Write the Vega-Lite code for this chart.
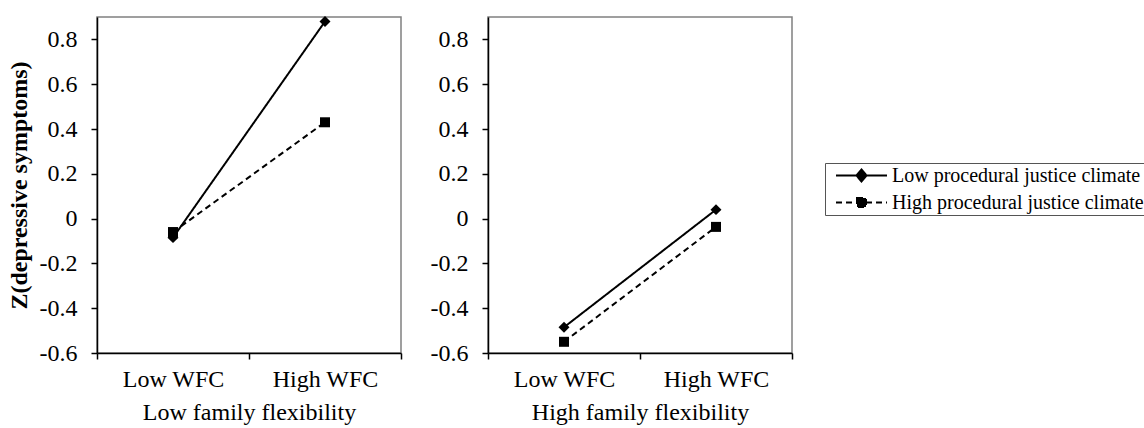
{
  "$schema": "https://vega.github.io/schema/vega-lite/v6.json",
  "padding": {"left": 6, "top": 15, "right": 0, "bottom": 0},
  "background": "white",
  "config": {
    "font": "Liberation Serif",
    "view": {"stroke": "#808080", "strokeWidth": 1.5},
    "axis": {
      "domainColor": "black", "tickColor": "black", "labelColor": "black", "titleColor": "black",
      "labelFont": "Liberation Serif", "titleFont": "Liberation Serif",
      "labelFontSize": 24, "titleFontSize": 24, "titleFontWeight": "normal",
      "grid": false, "tickSize": 6, "domainWidth": 1.5, "tickWidth": 1.5
    },
    "legend": {"labelFont": "Liberation Serif"},
    "concat": {"spacing": 26}
  },
  "datasets": {
    "d": [
      {"flex": "Low family flexibility", "wfc": "Low WFC", "pjc": "Low procedural justice climate", "z": -0.085},
      {"flex": "Low family flexibility", "wfc": "High WFC", "pjc": "Low procedural justice climate", "z": 0.88},
      {"flex": "Low family flexibility", "wfc": "Low WFC", "pjc": "High procedural justice climate", "z": -0.06},
      {"flex": "Low family flexibility", "wfc": "High WFC", "pjc": "High procedural justice climate", "z": 0.43},
      {"flex": "High family flexibility", "wfc": "Low WFC", "pjc": "Low procedural justice climate", "z": -0.485},
      {"flex": "High family flexibility", "wfc": "High WFC", "pjc": "Low procedural justice climate", "z": 0.04},
      {"flex": "High family flexibility", "wfc": "Low WFC", "pjc": "High procedural justice climate", "z": -0.55},
      {"flex": "High family flexibility", "wfc": "High WFC", "pjc": "High procedural justice climate", "z": -0.037}
    ]
  },
  "hconcat": [
    {
      "width": 304, "height": 336,
      "data": {"name": "d"},
      "transform": [{"filter": "datum.flex == 'Low family flexibility'"}],
      "encoding": {
        "x": {"field": "wfc", "type": "nominal",
              "scale": {"type": "band", "domain": ["Low WFC", "High WFC"], "paddingInner": 0, "paddingOuter": 0},
              "axis": {"title": "Low family flexibility", "labelAngle": 0, "tickBand": "extent", "labelPadding": 8, "titlePadding": 9}},
        "y": {"field": "z", "type": "quantitative",
              "scale": {"domain": [-0.6, 0.9], "nice": false, "zero": false},
              "axis": {"title": "Z(depressive symptoms)", "values": [-0.6, -0.4, -0.2, 0, 0.2, 0.4, 0.6, 0.8],
                       "labelExpr": "'' + datum.value", "titleFontWeight": "bold", "labelPadding": 14, "titlePadding": 8}}
      },
      "layer": [
        {"mark": {"type": "line", "color": "black", "strokeWidth": 2},
         "encoding": {"strokeDash": {"field": "pjc", "type": "nominal",
            "scale": {"domain": ["Low procedural justice climate", "High procedural justice climate"], "range": [[1, 0], [6, 4]]},
            "legend": {
              "title": null, "orient": "none", "legendX": 728, "legendY": 146,
              "labelFont": "Liberation Serif", "labelFontSize": 20, "labelColor": "black", "labelLimit": 0,
              "strokeColor": "#555", "fillColor": "white", "padding": 2.5,
              "symbolSize": 100, "symbolStrokeWidth": 2, "symbolStrokeColor": "black", "symbolFillColor": "black", "symbolOpacity": 1,
              "symbolOffset": 24, "labelOffset": 20.5, "rowPadding": 7
            }}}},
        {"transform": [{"filter": "datum.pjc == 'Low procedural justice climate'"}],
         "mark": {"type": "point", "shape": "diamond", "size": 120, "filled": true, "color": "black", "opacity": 1}},
        {"transform": [{"filter": "datum.pjc == 'High procedural justice climate'"}],
         "mark": {"type": "point", "shape": "square", "size": 100, "filled": true, "color": "black", "opacity": 1}},
        {"transform": [{"filter": "false"}],
         "mark": {"type": "point", "filled": true, "color": "black", "opacity": 1},
         "encoding": {
           "shape": {"field": "pjc", "type": "nominal",
             "scale": {"domain": ["Low procedural justice climate", "High procedural justice climate"],
                       "range": ["M-5.1,0H5.1M-1,0L0,-1.2L1,0L0,1.2Z", "M-5.1,0H5.1M-0.9,-0.9H0.9V0.9H-0.9Z"]}}
         }}
      ]
    },
    {
      "width": 304, "height": 336,
      "data": {"name": "d"},
      "transform": [{"filter": "datum.flex == 'High family flexibility'"}],
      "encoding": {
        "x": {"field": "wfc", "type": "nominal",
              "scale": {"type": "band", "domain": ["Low WFC", "High WFC"], "paddingInner": 0, "paddingOuter": 0},
              "axis": {"title": "High family flexibility", "labelAngle": 0, "tickBand": "extent", "labelPadding": 8, "titlePadding": 9}},
        "y": {"field": "z", "type": "quantitative",
              "scale": {"domain": [-0.6, 0.9], "nice": false, "zero": false},
              "axis": {"title": null, "values": [-0.6, -0.4, -0.2, 0, 0.2, 0.4, 0.6, 0.8],
                       "labelExpr": "'' + datum.value", "labelPadding": 14}}
      },
      "layer": [
        {"mark": {"type": "line", "color": "black", "strokeWidth": 2},
         "encoding": {"strokeDash": {"field": "pjc", "type": "nominal",
            "scale": {"domain": ["Low procedural justice climate", "High procedural justice climate"], "range": [[1, 0], [6, 4]]}}}},
        {"transform": [{"filter": "datum.pjc == 'Low procedural justice climate'"}],
         "mark": {"type": "point", "shape": "diamond", "size": 120, "filled": true, "color": "black", "opacity": 1}},
        {"transform": [{"filter": "datum.pjc == 'High procedural justice climate'"}],
         "mark": {"type": "point", "shape": "square", "size": 100, "filled": true, "color": "black", "opacity": 1}}
      ]
    }
  ]
}
